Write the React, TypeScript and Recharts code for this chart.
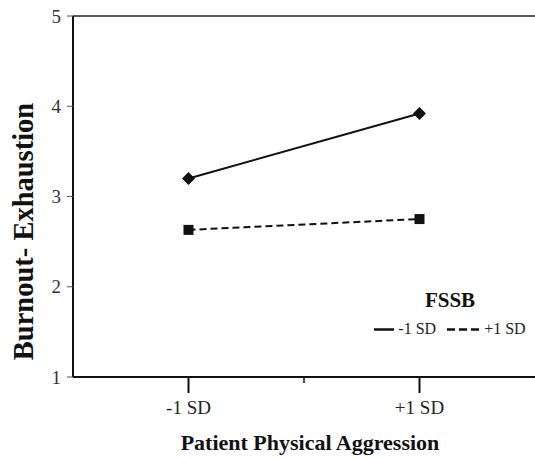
import { LineChart, Line, XAxis, YAxis, ReferenceLine, Legend } from "recharts";

// FSSB simple slopes across patient physical aggression
const categories = ["-1 SD", "+1 SD"];
const lowFssb = [3.2, 3.92];
const highFssb = [2.63, 2.75];
const yTicks = [1, 2, 3, 4, 5];
const seriesNames = ["-1 SD", "+1 SD"];

const data = categories.map((name, i) => ({
  name,
  low: lowFssb[i],
  high: highFssb[i],
}));

const FONT = "'Liberation Serif', serif";
const INK = "#111";
const X_TICK_SIZE = 16;
const X_TICK_MARGIN = 8;

function DiamondDot(props: { cx?: number; cy?: number }) {
  const { cx, cy } = props;
  if (cx == null || cy == null) return null;
  const r = 6.5;
  return (
    <path
      d={`M${cx},${cy - r}L${cx + r},${cy}L${cx},${cy + r}L${cx - r},${cy}Z`}
      fill={INK}
    />
  );
}

function SquareDot(props: { cx?: number; cy?: number }) {
  const { cx, cy } = props;
  if (cx == null || cy == null) return null;
  const s = 10;
  return <rect x={cx - s / 2} y={cy - s / 2} width={s} height={s} fill={INK} />;
}

function XTick(props: any) {
  const { x, y, payload, index } = props;
  const axisY = y - X_TICK_SIZE - X_TICK_MARGIN;
  const off = payload?.offset;
  return (
    <g>
      <text
        x={x}
        y={y}
        dy="0.71em"
        textAnchor="middle"
        fontSize={19}
        style={{ fontFamily: FONT }}
        fill="#222"
      >
        {payload.value}
      </text>
      {index === 0 && off ? (
        <line x1={x + off} x2={x + off} y1={axisY} y2={axisY + 6} stroke={INK} strokeWidth={1.5} />
      ) : null}
    </g>
  );
}

function LegendBox(props: any) {
  const payload = [...(props.payload || [])].sort(
    (a: any, b: any) => seriesNames.indexOf(a.value) - seriesNames.indexOf(b.value)
  );
  return (
    <div style={{ fontFamily: FONT, color: "#222", textAlign: "center" }}>
      <div style={{ fontSize: 21, fontWeight: "bold", lineHeight: "21px", color: INK }}>FSSB</div>
      <div
        style={{
          marginTop: 10,
          display: "flex",
          justifyContent: "center",
          alignItems: "center",
          fontSize: 16,
          lineHeight: "16px",
        }}
      >
        {payload.map((entry: any, i: number) => {
          const dash = entry.payload?.strokeDasharray;
          const w = dash ? 33 : 20;
          return (
            <span
              key={i}
              style={{ display: "flex", alignItems: "center", marginLeft: i === 0 ? 0 : 11 }}
            >
              <svg width={w} height={16} style={{ marginRight: 4 }}>
                <line
                  x1={0}
                  x2={w}
                  y1={8.5}
                  y2={8.5}
                  stroke={INK}
                  strokeWidth={2.5}
                  strokeDasharray={dash ? "8 4" : undefined}
                />
              </svg>
              <span>{entry.value}</span>
            </span>
          );
        })}
      </div>
    </div>
  );
}

export default function App() {
  return (
    <div style={{ position: "absolute", left: 0, top: 0, background: "#fff", fontFamily: FONT }}>
      <LineChart
        width={535}
        height={458}
        data={data}
        margin={{ top: 16, right: 0, left: 0, bottom: 0 }}
        style={{ fontFamily: FONT }}
      >
        <XAxis
          dataKey="name"
          scale="band"
          height={81}
          tickSize={X_TICK_SIZE}
          tickMargin={X_TICK_MARGIN}
          axisLine={{ stroke: INK, strokeWidth: 2 }}
          tickLine={{ stroke: INK, strokeWidth: 2 }}
          tick={<XTick />}
          label={{
            content: (p: any) => {
              const vb = p.viewBox || {};
              return (
                <text
                  x={vb.x + vb.width / 2 + 6}
                  y={450}
                  textAnchor="middle"
                  fontSize={22}
                  fontWeight="bold"
                  style={{ fontFamily: FONT }}
                  fill={INK}
                >
                  Patient Physical Aggression
                </text>
              );
            },
          }}
        />
        <YAxis
          type="number"
          domain={[1, 5]}
          ticks={yTicks}
          width={73}
          tickSize={6}
          tickMargin={6}
          axisLine={{ stroke: INK, strokeWidth: 2 }}
          tickLine={{ stroke: "#555", strokeWidth: 1 }}
          tick={{ fontSize: 19, fill: "#333", style: { fontFamily: FONT } }}
          label={{
            content: (p: any) => {
              const vb = p.viewBox || {};
              const cx = 33;
              const cy = vb.y + vb.height / 2 + 35;
              return (
                <text
                  x={cx}
                  y={cy}
                  transform={`rotate(-90, ${cx}, ${cy})`}
                  textAnchor="middle"
                  fontSize={28.5}
                  fontWeight="bold"
                  style={{ fontFamily: FONT }}
                  fill={INK}
                >
                  Burnout- Exhaustion
                </text>
              );
            },
          }}
        />
        <ReferenceLine y={5} stroke="#222" strokeWidth={1.5} />
        <Legend
          layout="horizontal"
          verticalAlign="middle"
          align="center"
          wrapperStyle={{ left: 365, top: 290, width: 170 }}
          content={<LegendBox />}
        />
        <Line
          dataKey="low"
          name={seriesNames[0]}
          stroke={INK}
          strokeWidth={2}
          dot={<DiamondDot />}
          activeDot={false}
          isAnimationActive={false}
        />
        <Line
          dataKey="high"
          name={seriesNames[1]}
          stroke={INK}
          strokeWidth={2}
          strokeDasharray="7 4"
          dot={<SquareDot />}
          activeDot={false}
          isAnimationActive={false}
        />
      </LineChart>
    </div>
  );
}
